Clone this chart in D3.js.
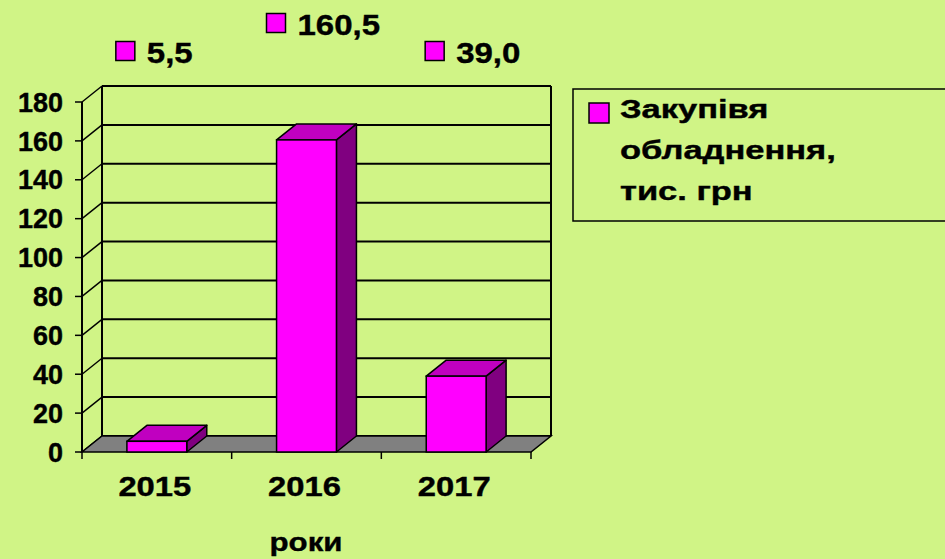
<!DOCTYPE html>
<html>
<head>
<meta charset="utf-8">
<script src="https://cdn.jsdelivr.net/npm/d3@7"></script>
<style>
  html, body { margin: 0; padding: 0; background: #d0f486; }
  svg text { font-family: "Liberation Sans", Arial, sans-serif; font-weight: bold; fill: #000;
             stroke: #000; stroke-width: 0.4px; }
</style>
</head>
<body>
<div id="chart"></div>
<script>
// chart data
const years = ["2015", "2016", "2017"];
const values = [5.5, 160.5, 39.0];
const valueLabels = ["5,5", "160,5", "39,0"];
const yTicks = [0, 20, 40, 60, 80, 100, 120, 140, 160, 180];
const seriesName = ["Закупівя", "обладнення,", "тис. грн"];
const axisTitle = "роки";

const width = 945, height = 559;
const bg = "#d0f486";
// 3d depth offset
const dx = 20, dy = -16;
// horizontal nudge of the value labels, like in the original slide
const labelShift = [-41, -40, -31];

const svg = d3.select("#chart").append("svg")
    .attr("width", width)
    .attr("height", height)
    .style("display", "block")
    .style("background-color", bg);

const x = d3.scaleBand()
    .domain(years)
    .range([82, 531])
    .paddingInner(0.6)
    .paddingOuter(0.3);

const y = d3.scaleLinear()
    .domain([0, 180])
    .range([452, 102]);

const x0 = x.range()[0], x1 = x.range()[1];

// back wall gridlines
svg.append("g").selectAll("line")
    .data(yTicks)
    .join("line")
    .attr("x1", x0 + dx).attr("x2", x1 + dx)
    .attr("y1", d => y(d) + dy).attr("y2", d => y(d) + dy)
    .attr("stroke", "#000").attr("stroke-width", 2);

// side wall diagonals
svg.append("g").selectAll("line")
    .data(yTicks)
    .join("line")
    .attr("x1", x0).attr("x2", x0 + dx)
    .attr("y1", d => y(d)).attr("y2", d => y(d) + dy)
    .attr("stroke", "#000").attr("stroke-width", 1.5);

// back wall edges
svg.append("line")
    .attr("x1", x0 + dx).attr("x2", x0 + dx)
    .attr("y1", y(180) + dy).attr("y2", y(0) + dy)
    .attr("stroke", "#000").attr("stroke-width", 2);
svg.append("line")
    .attr("x1", x1 + dx).attr("x2", x1 + dx)
    .attr("y1", y(180) + dy).attr("y2", y(0) + dy)
    .attr("stroke", "#000").attr("stroke-width", 2);

// floor
svg.append("path")
    .attr("d", `M${x0},${y(0)}L${x1},${y(0)}L${x1 + dx},${y(0) + dy}L${x0 + dx},${y(0) + dy}Z`)
    .attr("fill", "#808080")
    .attr("stroke", "#000").attr("stroke-width", 1.5);

// y axis line + ticks
svg.append("line")
    .attr("x1", x0).attr("x2", x0)
    .attr("y1", y(180)).attr("y2", y(0))
    .attr("stroke", "#000").attr("stroke-width", 2);
svg.append("g").selectAll("line")
    .data(yTicks)
    .join("line")
    .attr("x1", x0 - 7).attr("x2", x0)
    .attr("y1", d => y(d)).attr("y2", d => y(d))
    .attr("stroke", "#000").attr("stroke-width", 1.5);
svg.append("g").selectAll("text")
    .data(yTicks)
    .join("text")
    .attr("x", 63)
    .attr("y", d => y(d))
    .attr("dy", "0.36em")
    .attr("text-anchor", "end")
    .style("font-size", "27px")
    .text(d => d);

// x ticks at category boundaries
const xTickPos = d3.range(years.length + 1).map(i => x0 + i * x.step());
svg.append("g").selectAll("line")
    .data(xTickPos)
    .join("line")
    .attr("x1", d => Math.min(d, x1)).attr("x2", d => Math.min(d, x1))
    .attr("y1", y(0)).attr("y2", y(0) + 7)
    .attr("stroke", "#000").attr("stroke-width", 1.5);

// bars
const bars = svg.append("g").selectAll("g")
    .data(years.map((yr, i) => ({ yr, v: values[i] })))
    .join("g");

bars.append("path") // side
    .attr("d", d => {
        const l = x(d.yr) + x.bandwidth(), t = y(d.v), b = y(0);
        return `M${l},${b}L${l},${t}L${l + dx},${t + dy}L${l + dx},${b + dy}Z`;
    })
    .attr("fill", "#800080").attr("stroke", "#000").attr("stroke-width", 1.5)
    .attr("stroke-linejoin", "round");
bars.append("path") // top
    .attr("d", d => {
        const l = x(d.yr), r = l + x.bandwidth(), t = y(d.v);
        return `M${l},${t}L${r},${t}L${r + dx},${t + dy}L${l + dx},${t + dy}Z`;
    })
    .attr("fill", "#c000c0").attr("stroke", "#000").attr("stroke-width", 1.5)
    .attr("stroke-linejoin", "round");
bars.append("rect") // front
    .attr("x", d => x(d.yr))
    .attr("y", d => y(d.v))
    .attr("width", x.bandwidth())
    .attr("height", d => y(0) - y(d.v))
    .attr("fill", "#ff00ff").attr("stroke", "#000").attr("stroke-width", 1.5);

// x labels
svg.append("g").selectAll("text")
    .data(years)
    .join("text")
    .attr("transform", d => `translate(${x(d) + x.bandwidth() / 2 - 2},496) scale(1.17,1)`)
    .attr("text-anchor", "middle")
    .style("font-size", "28px")
    .text(d => d);

svg.append("text")
    .attr("transform", `translate(306,551) scale(1.2,1)`)
    .attr("text-anchor", "middle")
    .style("font-size", "26px")
    .text(axisTitle);

// data labels (staggered above chart)
const vmax = d3.max(values);
const dl = svg.append("g").selectAll("g")
    .data(years.map((yr, i) => ({ yr, v: values[i], lab: valueLabels[i], i })))
    .join("g")
    .attr("transform", d => `translate(${x(d.yr) + x.bandwidth() / 2 + labelShift[d.i]},${d.v === vmax ? 23.5 : 51.5})`);
dl.append("rect")
    .attr("x", 0).attr("y", -10)
    .attr("width", 19).attr("height", 19)
    .attr("fill", "#ff00ff").attr("stroke", "#000").attr("stroke-width", 1.5);
dl.append("text")
    .attr("transform", "translate(31,11.5) scale(1.1,1)")
    .style("font-size", "30px")
    .text(d => d.lab);

// legend (box runs past the right edge in the original)
const lg = svg.append("g");
lg.append("rect")
    .attr("x", 573).attr("y", 89)
    .attr("width", 380).attr("height", 132)
    .attr("fill", "none").attr("stroke", "#000").attr("stroke-width", 1.5);
lg.append("rect")
    .attr("x", 589).attr("y", 103)
    .attr("width", 20).attr("height", 20)
    .attr("fill", "#ff00ff").attr("stroke", "#000").attr("stroke-width", 1.5);
lg.selectAll("text.leg")
    .data(seriesName)
    .join("text")
    .attr("class", "leg")
    .attr("transform", (d, i) => `translate(620,${118 + i * 41}) scale(1.38,1)`)
    .style("font-size", "25px")
    .text(d => d);
</script>
</body>
</html>
